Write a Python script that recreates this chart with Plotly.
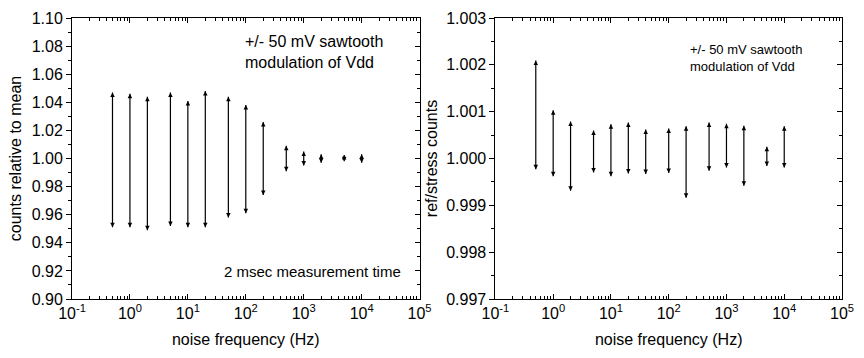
import plotly.graph_objects as go

# ---------------- data ----------------
freq_left = [0.5, 1, 2, 5, 10, 20, 50, 100, 200, 500, 1000, 2000, 5000, 10000]
left_top = [1.047, 1.046, 1.044, 1.047, 1.041, 1.048, 1.044, 1.038, 1.026, 1.009, 1.005, 1.003, 1.0025, 1.003]
left_bot = [0.951, 0.951, 0.949, 0.952, 0.951, 0.951, 0.958, 0.961, 0.974, 0.991, 0.995, 0.997, 0.998, 0.997]

freq_right = [0.5, 1, 2, 5, 10, 20, 40, 100, 200, 500, 1000, 2000, 5000, 10000]
right_top = [1.00209, 1.00103, 1.00079, 1.00060, 1.00073, 1.00077, 1.00062, 1.00064,
             1.00069, 1.00077, 1.00074, 1.00070, 1.00025, 1.00069]
right_bot = [0.99977, 0.99962, 0.99931, 0.99970, 0.99962, 0.99968, 0.99967, 0.99969,
             0.99916, 0.99974, 0.99981, 0.99942, 0.99984, 0.99981]

x_tickvals = [0.1, 1, 10, 100, 1000, 10000, 100000]
x_ticktext = ["10<sup>-1</sup>", "10<sup>0</sup>", "10<sup>1</sup>", "10<sup>2</sup>",
              "10<sup>3</sup>", "10<sup>4</sup>", "10<sup>5</sup>"]
x_minor = [m * 10 ** e for e in range(-1, 5) for m in range(2, 10)]

left_yticks = [0.90, 0.92, 0.94, 0.96, 0.98, 1.00, 1.02, 1.04, 1.06, 1.08, 1.10]
left_yticktext = ["0.90", "0.92", "0.94", "0.96", "0.98", "1.00", "1.02", "1.04", "1.06", "1.08", "1.10"]
left_yminor = [0.91, 0.93, 0.95, 0.97, 0.99, 1.01, 1.03, 1.05, 1.07, 1.09]

right_yticks = [0.997, 0.998, 0.999, 1.000, 1.001, 1.002, 1.003]
right_yticktext = ["0.997", "0.998", "0.999", "1.000", "1.001", "1.002", "1.003"]
right_yminor = [0.9975, 0.9985, 0.9995, 1.0005, 1.0015, 1.0025]

FONT = "Liberation Sans, Arial, sans-serif"

def segs(xs, lo, hi):
    X, Y = [], []
    for f, a, b in zip(xs, lo, hi):
        X += [f, f, None]
        Y += [a, b, None]
    return X, Y

fig = go.Figure()

for xs, lo, hi, xa, ya in [(freq_left, left_bot, left_top, "x", "y"),
                          (freq_right, right_bot, right_top, "x2", "y2")]:
    X, Y = segs(xs, lo, hi)
    fig.add_trace(go.Scatter(x=X, y=Y, mode="lines", xaxis=xa, yaxis=ya,
                             line=dict(color="black", width=1.2), showlegend=False,
                             hoverinfo="skip"))
    fig.add_trace(go.Scatter(x=xs, y=hi, mode="markers", xaxis=xa, yaxis=ya,
                             marker=dict(symbol="arrow-up", size=4.5, color="black"),
                             showlegend=False))
    fig.add_trace(go.Scatter(x=xs, y=lo, mode="markers", xaxis=xa, yaxis=ya,
                             marker=dict(symbol="arrow-down", size=4.5, color="black"),
                             showlegend=False))

# invisible traces for the right-side tick axes
fig.add_trace(go.Scatter(x=[None], y=[None], xaxis="x", yaxis="y3", showlegend=False))
fig.add_trace(go.Scatter(x=[None], y=[None], xaxis="x2", yaxis="y4", showlegend=False))

tickfont = dict(family=FONT, size=16, color="black")
titlefont = dict(family=FONT, size=16, color="black")

def xaxis(domain, anchor):
    return dict(type="log", domain=domain, anchor=anchor, range=[-1, 5],
                tickmode="array", tickvals=x_tickvals, ticktext=x_ticktext,
                ticks="inside", ticklen=5, tickwidth=1, tickcolor="black",
                minor=dict(tickmode="array", tickvals=x_minor, ticks="inside",
                           ticklen=3, tickwidth=1, tickcolor="black"),
                showline=True, linecolor="black", linewidth=1, mirror="ticks",
                showgrid=False, zeroline=False, tickfont=tickfont,
                title=dict(text="noise frequency (Hz)", font=titlefont, standoff=12))

def yaxis(domain, anchor, rng, tv, tt, mv, title, standoff):
    return dict(domain=domain, anchor=anchor, range=rng,
                tickmode="array", tickvals=tv, ticktext=tt,
                ticks="outside", ticklen=5, tickwidth=1, tickcolor="black",
                minor=dict(tickmode="array", tickvals=mv, ticks="outside",
                           ticklen=3, tickwidth=1, tickcolor="black"),
                showline=True, linecolor="black", linewidth=1, mirror=True,
                showgrid=False, zeroline=False, tickfont=tickfont,
                title=dict(text=title, font=titlefont, standoff=standoff))

def yright(overl, anchor, rng, tv, mv):
    return dict(overlaying=overl, anchor=anchor, side="right", range=rng,
                tickmode="array", tickvals=tv, showticklabels=False,
                ticks="inside", ticklen=5, tickwidth=1, tickcolor="black",
                minor=dict(tickmode="array", tickvals=mv, ticks="inside",
                           ticklen=3, tickwidth=1, tickcolor="black"),
                showline=False, showgrid=False, zeroline=False)

L, R, T, B = 72, 10, 15, 59
W, H = 864, 358
pw = W - L - R
def px(x):
    return (x - L) / pw
def py(y):
    return (H - B - y) / (H - B - T)

dom1 = [0, px(425)]
dom2 = [px(502), 1.0]

fig.update_layout(
    width=W, height=H,
    margin=dict(l=L, r=R, t=T, b=B),
    paper_bgcolor="white", plot_bgcolor="white",
    showlegend=False,
    xaxis=xaxis(dom1, "y"),
    xaxis2=xaxis(dom2, "y2"),
    yaxis=yaxis([0, 1], "x", [0.90, 1.10], left_yticks, left_yticktext, left_yminor,
                "counts relative to mean", 6),
    yaxis2=yaxis([0, 1], "x2", [0.997, 1.003], right_yticks, right_yticktext, right_yminor,
                 "ref/stress counts", 4),
    yaxis3=yright("y", "x", [0.90, 1.10], left_yticks, left_yminor),
    yaxis4=yright("y2", "x2", [0.997, 1.003], right_yticks, right_yminor),
    annotations=[
        dict(text="+/- 50 mV sawtooth<br>modulation of Vdd", xref="paper", yref="paper",
             x=px(246), y=py(49.5), xanchor="left", yanchor="middle", align="left",
             showarrow=False, font=dict(family=FONT, size=16, color="black")),
        dict(text="2 msec measurement time", xref="paper", yref="paper",
             x=px(224), y=py(271), xanchor="left", yanchor="middle", align="left",
             showarrow=False, font=dict(family=FONT, size=15, color="black")),
        dict(text="+/- 50 mV sawtooth<br>modulation of Vdd", xref="paper", yref="paper",
             x=px(698), y=py(55), xanchor="left", yanchor="middle", align="left",
             showarrow=False, font=dict(family=FONT, size=13, color="black")),
    ],
)

fig.write_html("out.html")
